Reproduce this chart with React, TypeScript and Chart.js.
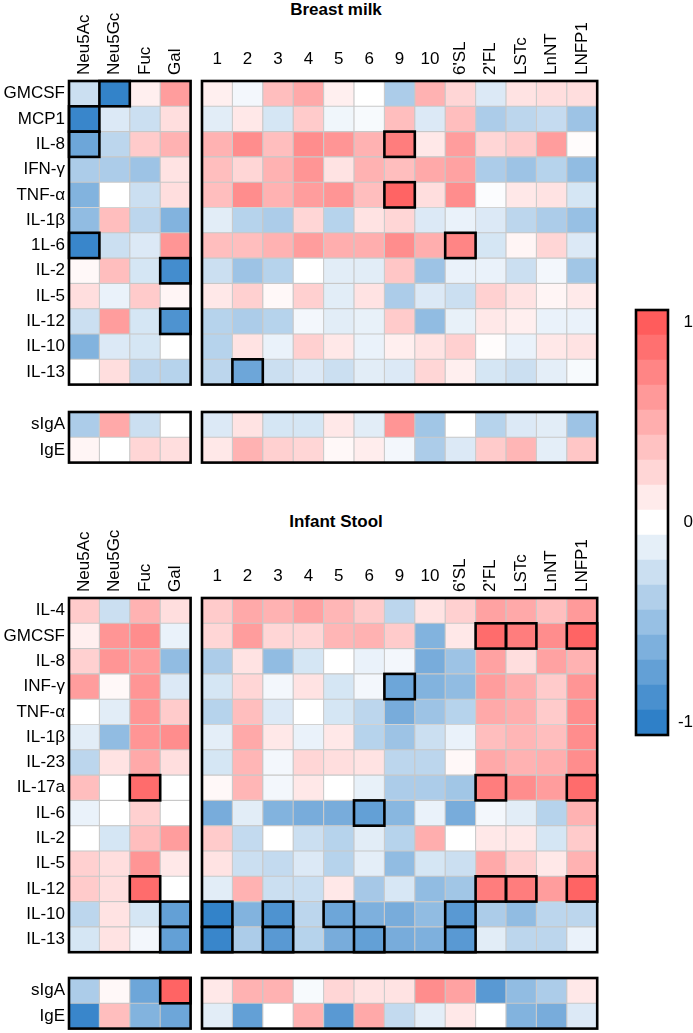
import React, { useEffect, useRef } from 'react';
import { Chart, registerables } from 'chart.js';

Chart.register(...registerables);

const FONT = '"Liberation Sans", Arial, Helvetica, sans-serif';

// ---------- labels ----------
const BM_ROWS = ['GMCSF', 'MCP1', 'IL-8', 'IFN-γ', 'TNF-α', 'IL-1β', '1L-6', 'IL-2', 'IL-5', 'IL-12', 'IL-10', 'IL-13'];
const ST_ROWS = ['IL-4', 'GMCSF', 'IL-8', 'INF-γ', 'TNF-α', 'IL-1β', 'IL-23', 'IL-17a', 'IL-6', 'IL-2', 'IL-5', 'IL-12', 'IL-10', 'IL-13'];
const IG_ROWS = ['sIgA', 'IgE'];
const MONO_COLS = ['Neu5Ac', 'Neu5Gc', 'Fuc', 'Gal'];
const OLIGO_COLS = ['1', '2', '3', '4', '5', '6', '9', '10', "6'SL", "2'FL", 'LSTc', 'LnNT', 'LNFP1'];
const CBAR_LEVELS = [1, 0.875, 0.75, 0.625, 0.5, 0.375, 0.25, 0.125, 0, -0.125, -0.25, -0.375, -0.5, -0.625, -0.75, -0.875, -1];
const CBAR_TICKS = [-1, 0, 1];
const TITLES = ['Breast milk', 'Infant Stool'];

// ---------- breast milk ----------
const BM_MONO = [
  [-0.25, -0.98, 0.1, 0.6],
  [-0.95, -0.17, -0.25, 0.2],
  [-0.7, -0.32, 0.32, 0.47],
  [-0.4, -0.4, -0.47, 0.17],
  [-0.6, 0.0, -0.25, 0.2],
  [-0.53, 0.4, -0.32, -0.6],
  [-0.95, -0.25, -0.17, 0.65],
  [0.04, 0.4, -0.2, -0.9],
  [0.2, -0.1, 0.32, 0.06],
  [-0.25, 0.6, -0.2, -0.85],
  [-0.6, -0.17, -0.2, 0.0],
  [0.0, 0.2, -0.32, -0.35],
];
const BM_MONO_SIG = [[0, 1], [1, 0], [2, 0], [6, 0], [7, 3], [9, 3]];

const BM_OLIGO = [
  [0.1, -0.06, 0.4, 0.53, 0.1, 0.0, -0.4, 0.47, 0.25, -0.17, 0.17, 0.2, 0.2],
  [-0.14, 0.14, -0.2, 0.32, -0.07, -0.04, 0.4, -0.17, 0.4, -0.4, -0.32, -0.28, -0.47],
  [0.47, 0.7, 0.4, 0.7, 0.65, 0.47, 0.8, 0.14, 0.6, 0.25, 0.32, 0.6, 0.02],
  [0.4, 0.25, 0.47, 0.65, 0.17, 0.47, 0.4, 0.53, 0.57, -0.4, -0.47, -0.35, -0.53],
  [0.4, 0.7, 0.47, 0.6, 0.65, 0.4, 0.95, 0.2, 0.7, -0.02, 0.14, 0.17, -0.2],
  [-0.14, -0.35, -0.4, 0.25, -0.35, 0.17, 0.25, -0.17, -0.1, -0.17, -0.32, -0.4, -0.5],
  [0.4, 0.4, 0.47, 0.6, 0.5, 0.5, 0.7, 0.5, 0.75, -0.2, 0.06, 0.25, -0.17],
  [-0.25, -0.47, -0.35, 0.0, -0.14, -0.14, 0.35, -0.47, -0.1, -0.1, -0.25, -0.06, -0.45],
  [0.14, 0.29, 0.04, 0.29, -0.14, 0.17, -0.4, -0.17, -0.25, 0.28, 0.17, 0.06, 0.13],
  [-0.35, -0.4, -0.35, -0.06, -0.14, -0.11, 0.32, -0.53, -0.11, 0.14, 0.1, -0.1, -0.1],
  [-0.35, 0.17, -0.1, 0.29, 0.14, -0.1, 0.1, 0.17, 0.29, 0.02, -0.1, 0.14, 0.17],
  [-0.32, -0.7, -0.25, -0.17, -0.25, -0.14, -0.17, 0.25, 0.1, -0.2, -0.25, -0.13, -0.04],
];
const BM_OLIGO_SIG = [[2, 6], [4, 6], [6, 8], [11, 1]];

const BM_IG_MONO = [
  [-0.4, 0.53, -0.25, 0.0],
  [0.06, 0.0, 0.25, 0.2],
];
const BM_IG_MONO_SIG: number[][] = [];
const BM_IG_OLIGO = [
  [-0.17, 0.17, -0.2, -0.2, 0.14, -0.14, 0.65, -0.45, 0.0, -0.35, -0.17, -0.14, -0.47],
  [0.14, 0.47, 0.29, 0.25, 0.04, 0.11, -0.06, -0.4, -0.17, 0.32, 0.45, -0.13, 0.35],
];
const BM_IG_OLIGO_SIG: number[][] = [];

// ---------- infant stool ----------
const ST_MONO = [
  [0.32, -0.25, 0.47, 0.2],
  [0.1, 0.65, 0.7, -0.1],
  [0.29, 0.65, 0.6, -0.53],
  [0.6, 0.04, 0.65, -0.17],
  [0.0, -0.14, 0.65, 0.32],
  [-0.14, -0.53, 0.65, 0.7],
  [-0.32, 0.17, 0.53, 0.2],
  [0.4, 0.0, 0.9, 0.0],
  [-0.1, 0.0, 0.29, 0.0],
  [0.0, -0.2, 0.4, 0.6],
  [0.29, 0.2, 0.65, 0.14],
  [0.32, 0.2, 0.9, 0.0],
  [-0.32, 0.17, -0.2, -0.75],
  [-0.2, 0.17, -0.06, -0.75],
];
const ST_MONO_SIG = [[7, 2], [11, 2], [12, 3], [13, 3]];

const ST_OLIGO = [
  [0.32, 0.53, 0.47, 0.57, 0.45, 0.32, -0.32, 0.17, 0.29, 0.57, 0.53, 0.4, 0.62],
  [0.25, 0.6, 0.25, 0.25, 0.45, 0.47, 0.32, -0.6, 0.14, 0.9, 0.8, 0.7, 0.95],
  [-0.4, 0.17, -0.53, -0.2, 0.0, -0.1, -0.06, -0.65, -0.47, 0.57, 0.2, 0.57, 0.47],
  [-0.2, 0.25, -0.06, 0.17, -0.2, -0.06, -0.7, -0.6, -0.53, 0.6, 0.5, 0.32, 0.65],
  [-0.35, 0.4, -0.17, 0.0, -0.2, -0.32, -0.65, -0.47, -0.35, 0.53, 0.5, 0.32, 0.7],
  [-0.13, 0.53, 0.14, -0.1, 0.14, -0.35, -0.47, -0.25, -0.1, 0.4, 0.45, 0.4, 0.7],
  [-0.2, 0.45, -0.06, 0.25, 0.2, 0.17, -0.32, -0.32, 0.04, 0.53, 0.47, 0.5, 0.7],
  [0.04, 0.45, -0.06, 0.14, 0.0, -0.11, -0.4, -0.4, -0.45, 0.8, 0.7, 0.6, 0.9],
  [-0.65, -0.14, -0.6, -0.65, -0.65, -0.75, -0.57, -0.1, -0.65, -0.06, -0.14, -0.35, 0.47],
  [0.32, -0.29, 0.0, -0.25, -0.35, -0.14, -0.35, 0.5, 0.0, 0.14, 0.14, -0.2, 0.32],
  [0.17, -0.25, -0.29, -0.17, -0.35, -0.13, -0.53, -0.2, -0.25, 0.53, 0.29, 0.14, 0.47],
  [-0.14, 0.47, -0.25, -0.26, 0.14, -0.43, -0.19, -0.53, -0.45, 0.8, 0.8, 0.6, 0.95],
  [-0.98, -0.6, -0.85, -0.32, -0.7, -0.62, -0.65, -0.53, -0.8, -0.4, -0.53, -0.32, -0.32],
  [-0.95, -0.4, -0.8, -0.35, -0.65, -0.75, -0.65, -0.62, -0.8, -0.14, -0.32, -0.32, -0.1],
];
const ST_OLIGO_SIG = [
  [1, 9], [1, 10], [1, 12], [3, 6], [7, 9], [7, 12], [8, 5],
  [11, 9], [11, 10], [11, 12], [12, 0], [12, 2], [12, 4], [12, 8],
  [13, 0], [13, 2], [13, 5], [13, 8],
];

const ST_IG_MONO = [
  [-0.4, 0.04, -0.7, 0.95],
  [-0.95, 0.4, -0.6, -0.7],
];
const ST_IG_MONO_SIG = [[0, 3]];
const ST_IG_OLIGO = [
  [0.14, 0.47, 0.47, -0.04, 0.25, 0.17, 0.17, 0.7, 0.57, -0.8, -0.53, -0.4, 0.14],
  [-0.14, -0.75, 0.0, 0.47, -0.8, 0.53, -0.29, -0.13, 0.14, 0.0, -0.6, -0.65, -0.17],
];
const ST_IG_OLIGO_SIG: number[][] = [];

// ---------- layout & style ----------
const W = 693;
const H = 1033;
const LEFT_X = 69;
const RIGHT_X = 202;
const COL_W = 30.4;
const ROW_H = 25.3;
const PAD = 14;
const HEAD_H = 81;
const BM_TOP = 81;
const BM_IG_TOP = 412;
const ST_TOP = 598;
const ST_IG_TOP = 978;
const CBAR = { x: 636, y: 310, w: 32, cell: 25 };
const TITLE_X = 336;
const TITLE_Y = [10, 522];
const NUM_GAP = 17;
const ROT_GAP = 6;
const POS_END = [255, 92, 92];
const NEG_END = [47, 128, 200];
const GRID_COLOR = '#c8c8c8';

function heatColor(v: number): string {
  const t = Math.max(-1, Math.min(1, v));
  const end = t >= 0 ? POS_END : NEG_END;
  const a = Math.abs(t);
  const c = end.map((e) => Math.round(255 + (e - 255) * a));
  return `rgb(${c[0]},${c[1]},${c[2]})`;
}

type Panel = {
  rows: string[];
  cols: string[];
  values: number[][];
  sig: number[][];
  x: number;
  y: number;
  rowLabels: boolean;
  header: boolean;
};

function HeatPanel({ p }: { p: Panel }) {
  const ref = useRef<HTMLCanvasElement | null>(null);
  const w = p.cols.length * COL_W;
  const h = p.rows.length * ROW_H;
  const cl = p.rowLabels ? 0 : p.x - PAD;
  const ct = p.header ? p.y - HEAD_H : p.y - PAD;
  const cw = Math.ceil(p.x + w + PAD - cl);
  const ch = Math.min(H - ct, Math.ceil(p.y + h + PAD - ct));
  const padLeft = p.rowLabels ? 0 : p.x - cl;
  const padTop = p.y - ct;
  const padRight = cw - (p.x - cl) - w;
  const padBottom = ch - (p.y - ct) - h;

  useEffect(() => {
    if (!ref.current) return;
    const cells: { r: number; c: number; v: number }[] = [];
    p.values.forEach((row, r) => row.forEach((v, c) => cells.push({ r, c, v })));
    const ncols = p.cols.length;

    const extras = {
      id: 'heatExtras',
      afterDatasetsDraw(chart: any) {
        const ctx = chart.ctx;
        const meta = chart.getDatasetMeta(0);
        const a = chart.chartArea;
        ctx.save();
        ctx.strokeStyle = '#000';
        ctx.lineWidth = 2.6;
        for (const [r, c] of p.sig) {
          const el = meta.data[r * ncols + c];
          const { x, y, base, height } = el.getProps(['x', 'y', 'base', 'height'], true);
          const l = Math.min(x, base);
          ctx.strokeRect(l, y - height / 2, Math.abs(x - base), height);
        }
        ctx.strokeRect(a.left, a.top, a.right - a.left, a.bottom - a.top);
        if (p.header) {
          const xs = chart.scales.x;
          ctx.fillStyle = '#000';
          ctx.font = `17px ${FONT}`;
          p.cols.forEach((lab, c) => {
            const cx = xs.getPixelForValue(c + 0.5);
            if (lab.length > 2) {
              ctx.save();
              ctx.translate(cx, a.top - ROT_GAP);
              ctx.rotate(-Math.PI / 2);
              ctx.textAlign = 'left';
              ctx.textBaseline = 'middle';
              ctx.fillText(lab, 0, 0);
              ctx.restore();
            } else {
              ctx.textAlign = 'center';
              ctx.textBaseline = 'alphabetic';
              ctx.fillText(lab, cx, a.top - NUM_GAP);
            }
          });
        }
        ctx.restore();
      },
    };

    const chart = new Chart(ref.current, {
      type: 'bar',
      data: {
        labels: p.rows,
        datasets: [
          {
            data: cells.map((d) => ({ x: [d.c, d.c + 1], y: p.rows[d.r] })) as any,
            backgroundColor: cells.map((d) => heatColor(d.v)),
            borderColor: GRID_COLOR,
            borderWidth: 0.9,
            borderSkipped: false,
            barPercentage: 1,
            categoryPercentage: 1,
          },
        ],
      },
      options: {
        indexAxis: 'y',
        responsive: false,
        animation: false,
        devicePixelRatio: 1,
        layout: { padding: { left: padLeft, right: padRight, top: padTop, bottom: padBottom } },
        plugins: { legend: { display: false }, tooltip: { enabled: false }, title: { display: false } },
        scales: {
          x: { type: 'linear', min: 0, max: ncols, display: false },
          y: {
            type: 'category',
            display: p.rowLabels,
            grid: { display: false, drawTicks: false },
            border: { display: false },
            ticks: { font: { family: FONT, size: 17 }, color: '#000', padding: 4, autoSkip: false },
            afterFit: (s: any) => {
              if (p.rowLabels) s.width = p.x;
              s.paddingTop = 0;
              s.paddingBottom = 0;
            },
          },
        },
      } as any,
      plugins: [extras],
    });
    return () => chart.destroy();
  }, []);

  return (
    <canvas
      ref={ref}
      width={cw}
      height={ch}
      style={{ position: 'absolute', left: cl, top: ct, width: cw, height: ch }}
    />
  );
}

function ColorBar() {
  const ref = useRef<HTMLCanvasElement | null>(null);
  const h = CBAR_LEVELS.length * CBAR.cell;
  const cl = CBAR.x - PAD;
  const ct = CBAR.y - PAD;
  const cw = W - cl;
  const ch = Math.ceil(h + 2 * PAD);
  const half = 1 / (CBAR_LEVELS.length - 1);
  useEffect(() => {
    if (!ref.current) return;
    const outline = {
      id: 'cbOutline',
      afterDatasetsDraw(chart: any) {
        const a = chart.chartArea;
        const ctx = chart.ctx;
        ctx.save();
        ctx.strokeStyle = '#000';
        ctx.lineWidth = 2.6;
        ctx.strokeRect(a.left, a.top, a.right - a.left, a.bottom - a.top);
        ctx.restore();
      },
    };
    const chart = new Chart(ref.current, {
      type: 'bar',
      data: {
        labels: ['scale'],
        datasets: [
          {
            data: CBAR_LEVELS.map((v) => ({ x: 'scale', y: [v - half, v + half] })) as any,
            backgroundColor: CBAR_LEVELS.map(heatColor),
            borderWidth: 0,
            barPercentage: 1,
            categoryPercentage: 1,
          },
        ],
      },
      options: {
        responsive: false,
        animation: false,
        devicePixelRatio: 1,
        layout: { padding: { left: PAD, top: PAD, bottom: ch - PAD - h, right: 0 } },
        plugins: { legend: { display: false }, tooltip: { enabled: false } },
        scales: {
          x: { type: 'category', display: false },
          y: {
            type: 'linear',
            position: 'right',
            min: -1 - half,
            max: 1 + half,
            grid: { display: false, drawTicks: false },
            border: { display: false },
            ticks: { font: { family: FONT, size: 17 }, color: '#000', padding: 9, crossAlign: 'far' },
            afterBuildTicks: (s: any) => {
              s.ticks = CBAR_TICKS.map((v) => ({ value: v }));
            },
            afterFit: (s: any) => {
              s.width = W - (CBAR.x + CBAR.w);
              s.paddingTop = 0;
              s.paddingBottom = 0;
            },
          },
        },
      } as any,
      plugins: [outline],
    });
    return () => chart.destroy();
  }, []);
  return (
    <canvas
      ref={ref}
      width={cw}
      height={ch}
      style={{ position: 'absolute', left: cl, top: ct, width: cw, height: ch }}
    />
  );
}

const PANELS: Panel[] = [
  { rows: BM_ROWS, cols: MONO_COLS, values: BM_MONO, sig: BM_MONO_SIG, x: LEFT_X, y: BM_TOP, rowLabels: true, header: true },
  { rows: BM_ROWS, cols: OLIGO_COLS, values: BM_OLIGO, sig: BM_OLIGO_SIG, x: RIGHT_X, y: BM_TOP, rowLabels: false, header: true },
  { rows: IG_ROWS, cols: MONO_COLS, values: BM_IG_MONO, sig: BM_IG_MONO_SIG, x: LEFT_X, y: BM_IG_TOP, rowLabels: true, header: false },
  { rows: IG_ROWS, cols: OLIGO_COLS, values: BM_IG_OLIGO, sig: BM_IG_OLIGO_SIG, x: RIGHT_X, y: BM_IG_TOP, rowLabels: false, header: false },
  { rows: ST_ROWS, cols: MONO_COLS, values: ST_MONO, sig: ST_MONO_SIG, x: LEFT_X, y: ST_TOP, rowLabels: true, header: true },
  { rows: ST_ROWS, cols: OLIGO_COLS, values: ST_OLIGO, sig: ST_OLIGO_SIG, x: RIGHT_X, y: ST_TOP, rowLabels: false, header: true },
  { rows: IG_ROWS, cols: MONO_COLS, values: ST_IG_MONO, sig: ST_IG_MONO_SIG, x: LEFT_X, y: ST_IG_TOP, rowLabels: true, header: false },
  { rows: IG_ROWS, cols: OLIGO_COLS, values: ST_IG_OLIGO, sig: ST_IG_OLIGO_SIG, x: RIGHT_X, y: ST_IG_TOP, rowLabels: false, header: false },
];

export default function App() {
  return (
    <div style={{ position: 'relative', width: W, height: H, background: '#fff', overflow: 'hidden' }}>
      <style>{'body{margin:0;}'}</style>
      {TITLES.map((t, i) => (
        <div
          key={t}
          style={{
            position: 'absolute',
            left: TITLE_X - 100,
            width: 200,
            top: TITLE_Y[i] - 10,
            height: 20,
            lineHeight: '20px',
            textAlign: 'center',
            fontFamily: FONT,
            fontWeight: 'bold',
            fontSize: 17,
            color: '#000',
          }}
        >
          {t}
        </div>
      ))}
      {PANELS.map((p, i) => (
        <HeatPanel key={i} p={p} />
      ))}
      <ColorBar />
    </div>
  );
}
